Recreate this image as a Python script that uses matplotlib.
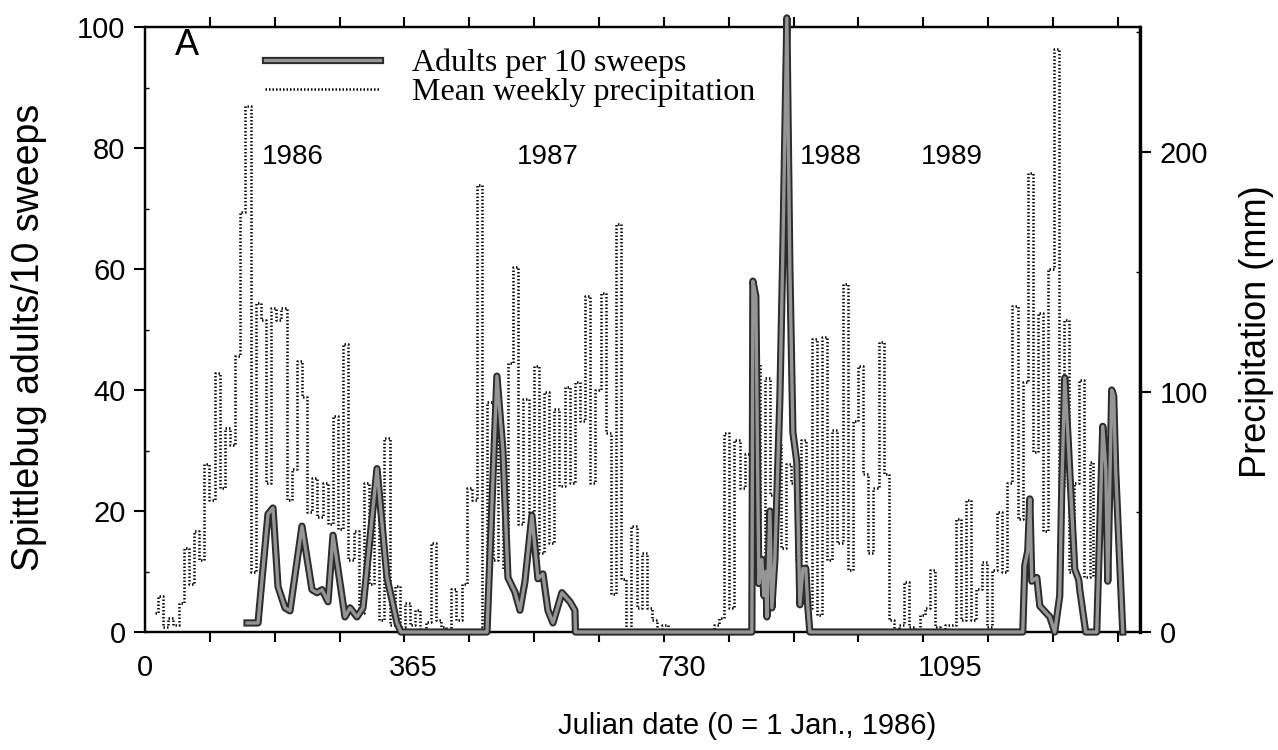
import numpy as np
import matplotlib
matplotlib.use("Agg")
import matplotlib.pyplot as plt
import matplotlib.patheffects as pe
from matplotlib.lines import Line2D
from matplotlib.ticker import FixedLocator, MultipleLocator

# --- Spittlebug adults per 10 sweeps (Julian day from 1 Jan 1986, count) ---
adult_day = [138.7, 153.6, 167.2, 174.0, 180.8, 190.3, 197.1, 213.4, 227.0, 233.8,
             240.6, 248.8, 255.6, 271.9, 278.7, 288.2, 296.4, 315.4, 329.0, 342.6,
             348.0,
             465.0, 478.5, 486.7, 493.5, 503.0, 509.8, 516.6, 526.1, 534.3, 541.1,
             547.9, 554.7, 566.9, 577.8, 584.6, 585.3,
             825.2, 826.6, 830.6, 834.7, 838.8, 841.5, 844.2, 845.6, 849.7, 852.4,
             856.5, 860.6, 863.3, 867.4, 872.8, 876.9, 881.0, 886.4, 890.5, 894.6,
             898.6, 901.4, 904.1,
             1193.6, 1196.4, 1200.4, 1203.2, 1205.9, 1212.7, 1216.8, 1230.4, 1237.1,
             1243.9, 1246.6, 1250.7, 1254.8, 1264.3, 1269.8, 1271.1, 1279.2,
             1294.2, 1298.3, 1302.4, 1306.5, 1309.2, 1314.6, 1317.3, 1320.0, 1329.6]
adult_count = [1.5, 1.5, 19.5, 20.5, 7.5, 4.0, 3.5, 17.5, 7.0, 6.5,
               7.0, 5.0, 16.0, 2.5, 4.0, 2.5, 4.0, 27.0, 9.0, 1.5,
               0.0,
               0.0, 42.3, 30.0, 9.0, 6.6, 3.6, 8.3, 19.3, 8.8, 9.6,
               3.6, 1.5, 6.5, 5.0, 3.6, 0.0,
               0.0, 58.0, 55.5, 8.0, 12.0, 6.0, 10.0, 2.5, 20.0, 4.0,
               12.0, 28.0, 38.5, 63.5, 101.5, 60.0, 33.0, 28.0, 4.5, 10.5,
               10.5, 4.0, 0.0,
               0.0, 11.0, 13.4, 22.0, 8.4, 9.0, 4.3, 2.5, 0.0,
               6.0, 23.5, 42.0, 33.0, 10.4, 8.6, 7.0, 0.0,
               0.0, 17.0, 34.0, 27.0, 8.4, 40.0, 39.0, 26.6, 0.0]

# --- Mean weekly precipitation (Julian day, mm) ---
rain_day = [14, 21, 28, 35, 42, 49, 56, 63, 70, 77, 84, 91, 98, 105, 112, 119, 126,
            133, 140, 147, 154, 161, 168, 175, 182, 189, 196, 203, 210, 217, 224,
            231, 238, 245, 252, 259, 266, 273, 280, 287, 294, 301, 308, 315, 322,
            329, 336, 343, 350, 357, 364, 371, 378, 385, 392, 399,
            406, 413, 420, 427, 434, 441, 448, 455, 462, 469, 476, 483, 490, 497,
            504, 511, 518, 525, 532, 539, 546, 553, 560, 567, 574, 581, 588, 595,
            602, 609, 616, 623, 630, 637, 644, 651, 658, 665, 672, 679, 686, 693,
            700, 707, 714, 721, 728,
            735, 742, 749, 756, 763, 770, 777, 784, 791, 798, 805, 812, 819, 826,
            833, 840, 847, 854, 861, 868, 875, 882, 889, 896, 903, 910, 917, 924,
            931, 938, 945, 952, 959, 966, 973, 980, 987, 994, 1001, 1008, 1015,
            1022, 1029, 1036, 1043, 1050, 1057, 1064, 1071, 1078, 1085, 1092,
            1099, 1106, 1113, 1120, 1127, 1134, 1141, 1148, 1155, 1162, 1169, 1176,
            1183, 1190, 1197, 1204, 1211, 1218, 1225, 1232, 1239, 1246, 1253, 1260,
            1267, 1274, 1281, 1288, 1290]
rain_mm = [8, 15, 2, 6, 3, 12, 35, 20, 42, 30, 70, 55, 108, 60, 85, 78, 115,
           175, 219, 25, 137, 130, 62, 135, 130, 135, 55, 68, 113, 98, 50,
           64, 48, 62, 45, 90, 43, 120, 30, 42, 8, 62, 20, 65, 5,
           81, 3, 19, 2, 12, 3, 9, 0, 4, 37, 5,
           2, 0, 18, 5, 20, 60, 55, 186, 2, 96, 30, 84, 26, 112,
           152, 45, 97, 50, 111, 33, 100, 37, 93, 61, 102, 62, 104, 88,
           140, 62, 101, 141, 83, 16, 170, 22, 0, 44, 10, 33, 10, 5,
           0, 3, 0, 0, 0,
           0, 0, 0, 0, 0, 0, 3, 6, 83, 10, 80, 60, 74, 45,
           112, 20, 106, 57, 78, 35, 70, 62, 30, 80, 10, 122, 7, 123,
           30, 84, 37, 145, 26, 88, 111, 66, 33, 60, 121, 66, 5,
           0, 3, 21, 2, 0, 7, 10, 26, 2, 0, 3,
           3, 47, 5, 55, 5, 18, 29, 2, 26, 50, 25, 62,
           136, 47, 104, 191, 75, 133, 42, 151, 243, 60, 130, 25,
           62, 105, 23, 71, 23]

year_labels = ["1986", "1987", "1988", "1989"]
year_label_day = [201, 548, 933, 1097]

x_tick_days = [0, 365, 730, 1095]
left_ticks = [0, 20, 40, 60, 80, 100]
right_ticks = [0, 100, 200]

sans = ["Liberation Sans", "DejaVu Sans"]
serif = ["Liberation Serif", "DejaVu Serif"]
plt.rcParams["font.family"] = sans

fig = plt.figure(figsize=(12.78, 7.5), dpi=100)
ax = fig.add_axes([0.1135, 0.1573, 0.7785, 0.8067])
ax2 = ax.twinx()

DOTS = (0, (0.6, 0.8))

# precipitation on the right-hand axis, drawn beneath the adults curve
ax2.plot(rain_day, rain_mm, color="black", lw=1.8, linestyle=DOTS,
         drawstyle="steps-mid", zorder=1)
ax2.set_ylim(0, 252)

# adults: grey line with a dark outline
adult_fx = [pe.Stroke(linewidth=5.2, foreground="#2b2b2b", joinstyle="round"),
            pe.Normal()]
ax.set_zorder(ax2.get_zorder() + 1)
ax.patch.set_visible(False)
ax.plot(adult_day, adult_count, color="#959595", lw=2.4,
        solid_joinstyle="round", path_effects=adult_fx, clip_on=False, zorder=3)

ax.set_xlim(0, 1353)
ax.set_ylim(0, 100)

# ticks
ax.xaxis.set_major_locator(FixedLocator(x_tick_days))
ax.set_xticklabels([str(d) for d in x_tick_days])
ax.xaxis.set_minor_locator(MultipleLocator(88.2))
ax.tick_params(axis="x", which="major", length=0, pad=16, labelsize=21)
ax.tick_params(axis="x", which="minor", direction="out", length=7, width=1.5,
               top=True, bottom=True)
ax.yaxis.set_major_locator(FixedLocator(left_ticks))
ax.yaxis.set_minor_locator(MultipleLocator(10))
ax.tick_params(axis="y", which="major", direction="out", length=8, width=1.5,
               labelsize=21, pad=6)
ax.tick_params(axis="y", which="minor", direction="in", length=3, width=1)

ax2.yaxis.set_major_locator(FixedLocator(right_ticks))
ax2.yaxis.set_minor_locator(FixedLocator([50, 150, 250]))
ax2.tick_params(axis="y", which="major", direction="out", length=8, width=1.5,
                labelsize=21, pad=6)
ax2.tick_params(axis="y", which="minor", direction="in", length=3, width=1)

for a in (ax, ax2):
    for s in a.spines.values():
        s.set_linewidth(1.6)
ax2.spines["right"].set_linewidth(2.4)

ax.set_xlabel("Julian date (0 = 1 Jan., 1986)", fontsize=21)
ax.xaxis.set_label_coords(0.605, -0.133)
ax.set_ylabel("Spittlebug adults/10 sweeps", fontsize=27)
ax.yaxis.set_label_coords(-0.0985, 0.487)
ax2.set_ylabel("Precipitation (mm)", fontsize=26)
ax2.yaxis.set_label_coords(1.1, 0.496)

# panel letter and year labels
ax.text(57, 97, "A", fontsize=26, ha="center", va="center")
for lab, d in zip(year_labels, year_label_day):
    ax.text(d, 78.5, lab, fontsize=20, ha="center", va="center")

# legend
h_adult = Line2D([], [], color="#959595", lw=2.4, path_effects=adult_fx)
h_rain = Line2D([], [], color="black", lw=1.8, linestyle=DOTS)
leg = ax.legend([h_adult, h_rain],
                ["Adults per 10 sweeps", "Mean weekly precipitation"],
                loc="upper left", bbox_to_anchor=(0.092, 1.012), frameon=False,
                handlelength=3.6, handletextpad=1.0, labelspacing=0.0,
                prop={"family": serif, "size": 23})

fig.savefig("out.png", dpi=100)
